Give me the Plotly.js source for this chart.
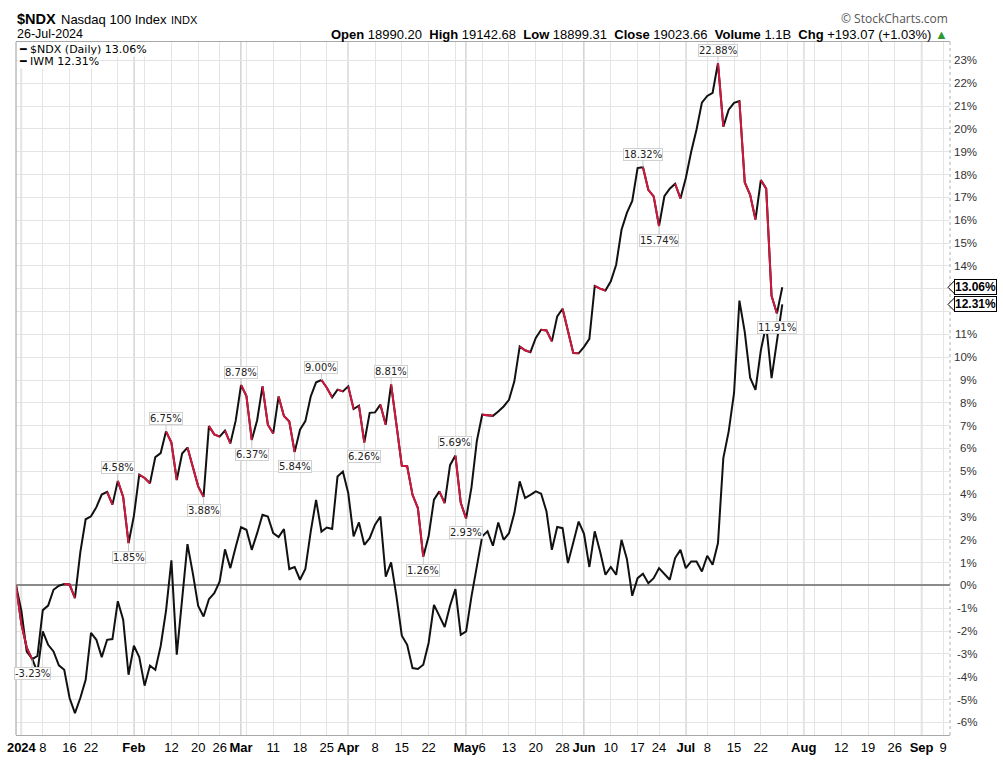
<!DOCTYPE html>
<html><head><meta charset="utf-8">
<script src="https://cdn.plot.ly/plotly-3.0.1.min.js"></script>
<style>html,body{margin:0;padding:0;background:#fff;}#chart{width:1003px;height:762px;}</style>
</head><body><div id="chart"></div>
<script>
// ---- data ----
const holidays = ['2024-01-01','2024-01-15','2024-02-19','2024-03-29','2024-05-27','2024-06-19','2024-07-04','2024-09-02'];
const startDate = '2023-12-29';
const endDate = '2024-09-10';

// $NDX % change since 29-Dec-2023 (daily closes)
const ndx = [0,-1.68,-2.72,-3.23,-3.09,-1.08,-0.88,-0.19,-0.01,0.06,0.04,-0.55,1.45,2.90,3.03,3.43,3.98,4.10,3.54,4.58,3.88,1.85,
 3.05,4.85,4.71,4.48,5.62,5.80,6.75,6.26,4.62,5.78,6.04,5.20,4.34,3.88,6.98,6.62,6.52,6.78,6.22,7.22,
 8.78,8.30,6.37,7.24,8.72,7.04,6.66,8.28,7.42,7.18,5.84,6.82,7.20,8.28,8.90,9.00,8.66,8.24,8.58,8.50,
 8.72,7.73,7.88,6.26,7.56,7.58,7.92,7.04,8.81,7.05,5.24,5.22,3.97,3.39,1.26,2.15,3.76,4.12,3.61,5.27,5.69,3.62,
 2.93,4.30,6.33,7.48,7.47,7.43,7.62,7.84,8.13,8.94,10.47,10.30,10.22,10.84,11.20,11.17,10.69,11.79,12.12,11.13,10.18,10.17,
 10.45,10.80,13.12,13.00,12.92,13.32,14.05,15.58,16.32,16.84,18.28,18.32,17.33,17.04,15.74,17.05,17.38,17.60,16.95,
 17.85,19.00,19.97,21.15,21.44,21.58,22.88,20.10,20.84,21.14,21.22,17.65,17.11,16.03,17.76,17.38,12.69,11.91,13.06];

// IWM % change since 29-Dec-2023
const iwm = [0,-1.10,-2.90,-3.20,-3.80,-2.01,-2.60,-2.89,-3.50,-3.69,-4.93,-5.59,-4.93,-4.13,-2.08,-2.38,-3.14,-2.38,-2.35,-0.69,-1.50,-3.91,
 -2.64,-3.14,-4.39,-3.51,-3.69,-2.65,-1.10,1.10,-3.03,-0.62,1.81,0.53,-0.90,-1.36,-0.60,-0.34,0.17,1.58,0.76,1.68,
 2.55,2.44,1.56,2.29,3.10,3.02,2.29,2.12,2.47,0.72,0.81,0.25,0.72,2.36,3.75,2.36,2.54,2.47,4.77,4.99,
 4.05,2.15,2.76,1.78,2.07,2.66,3.02,0.39,1.01,-0.48,-2.20,-2.60,-3.62,-3.66,-3.47,-2.52,-0.85,-1.33,-1.82,-0.89,-0.16,-2.16,
 -2.01,-0.48,0.83,2.15,2.37,1.74,2.76,2.00,2.29,3.17,4.56,3.83,3.97,4.12,4.02,3.24,1.56,2.56,2.51,0.98,1.88,2.80,
 2.26,0.81,2.37,1.49,0.47,0.81,0.47,2.00,1.16,-0.45,0.32,0.51,0.10,0.32,0.76,0.51,0.25,1.20,1.56,
 0.76,1.05,1.05,0.61,1.30,0.91,1.86,5.58,6.75,8.43,12.48,11.10,9.10,8.57,10.30,11.42,9.08,10.80,12.31];

const tickDates = ['2024-01-02','2024-01-08','2024-01-16','2024-01-22','2024-01-29','2024-02-01','2024-02-05','2024-02-12','2024-02-20','2024-02-26',
 '2024-03-01','2024-03-04','2024-03-11','2024-03-18','2024-03-25','2024-04-01','2024-04-08','2024-04-15','2024-04-22','2024-04-29',
 '2024-05-01','2024-05-06','2024-05-13','2024-05-20','2024-05-28','2024-06-03','2024-06-10','2024-06-17','2024-06-24',
 '2024-07-01','2024-07-08','2024-07-15','2024-07-22','2024-07-29','2024-08-01','2024-08-05','2024-08-12','2024-08-19','2024-08-26',
 '2024-09-03','2024-09-09'];
const tickLabels = ['<b>2024</b>','8','16','22','','<b>Feb</b>','','12','20','26',
 '<b>Mar</b>','','11','18','25','<b>Apr</b>','8','15','22','',
 '<b>May</b>','6','13','20','28','<b>Jun</b>','10','17','24',
 '<b>Jul</b>','8','15','22','','<b>Aug</b>','','12','19','26',
 '<b>Sep</b>','9'];
const monthDates = ['2024-01-02','2024-02-01','2024-03-01','2024-04-01','2024-05-01','2024-06-03','2024-07-01','2024-08-01','2024-09-03'];

// labelled swing highs/lows on $NDX
const swingIdx  = [3,19,21,28,35,42,44,52,57,65,70,76,82,84,117,120,131,142];
const swingSide = ['low','high','low','high','low','high','low','low','high','low','high','low','high','low','high','low','high','low'];

const yTickMin = -6, yTickMax = 23;

// ---- helpers ----
function tradingDays(s, e, hol) {
  const out = [];
  const d = new Date(s + 'T00:00:00Z'), end = new Date(e + 'T00:00:00Z');
  while (d <= end) {
    const wd = d.getUTCDay(), iso = d.toISOString().slice(0, 10);
    if (wd !== 0 && wd !== 6 && hol.indexOf(iso) < 0) out.push(iso);
    d.setUTCDate(d.getUTCDate() + 1);
  }
  return out;
}
const dates = tradingDays(startDate, endDate, holidays);
const n = ndx.length;
const xs = dates.slice(0, n);

// red segments for down days on $NDX
const rx = [], ry = [];
for (let i = 1; i < n;) {
  if (ndx[i] < ndx[i - 1]) {
    let j = i;
    while (j + 1 < n && ndx[j + 1] < ndx[j]) j++;
    for (let k = i - 1; k <= j; k++) { rx.push(dates[k]); ry.push(ndx[k]); }
    rx.push(dates[j]); ry.push(null);
    i = j + 1;
  } else i++;
}

const PL = 16, PR = 950, PT = 42, PB = 735;
const px = x => (x - PL) / (PR - PL);
const py = y => (PB - y) / (PB - PT);

const SANS = 'Liberation Sans, Arial, sans-serif';
const VERD = 'DejaVu Sans, Verdana, sans-serif';
const NARROW = 'Liberation Sans Narrow, Arial Narrow, Liberation Sans, sans-serif';

const ndxLast = ndx[n - 1], iwmLast = iwm[n - 1];

const traces = [
  {x: xs, y: iwm, type: 'scatter', mode: 'lines', line: {color: '#111', width: 2}, hoverinfo: 'skip', showlegend: false},
  {x: xs, y: ndx, type: 'scatter', mode: 'lines', line: {color: '#111', width: 2}, hoverinfo: 'skip', showlegend: false},
  {x: rx, y: ry, type: 'scatter', mode: 'lines', connectgaps: false, line: {color: '#d0173d', width: 2}, hoverinfo: 'skip', showlegend: false}
];

const ann = [];
// header
ann.push({xref:'paper', yref:'paper', x:px(15), y:py(19), xanchor:'left', yanchor:'middle', showarrow:false,
  text:'<b>$NDX</b>', font:{family:SANS, size:14.5, color:'#000'}});
ann.push({xref:'paper', yref:'paper', x:px(59), y:py(20), xanchor:'left', yanchor:'middle', showarrow:false,
  text:'Nasdaq 100 Index', font:{family:SANS, size:13, color:'#000'}});
ann.push({xref:'paper', yref:'paper', x:px(169), y:py(20), xanchor:'left', yanchor:'middle', showarrow:false,
  text:'INDX', font:{family:SANS, size:11, color:'#000'}});
ann.push({xref:'paper', yref:'paper', x:px(15), y:py(34), xanchor:'left', yanchor:'middle', showarrow:false,
  text:'26-Jul-2024', font:{family:SANS, size:12.5, color:'#000'}});
ann.push({xref:'paper', yref:'paper', x:px(950), y:py(34), xanchor:'right', yanchor:'middle', showarrow:false,
  text:'<b>Open</b> 18990.20  <b>High</b> 19142.68  <b>Low</b> 18899.31  <b>Close</b> 19023.66  <b>Volume</b> 1.1B  <b>Chg</b> +193.07 (+1.03%) <span style="color:#2f9a2f">▲</span>',
  font:{family:SANS, size:13, color:'#000'}});
ann.push({xref:'paper', yref:'paper', x:px(950), y:py(19), xanchor:'right', yanchor:'middle', showarrow:false,
  text:'© StockCharts.com', font:{family:'Open Sans, DejaVu Sans, sans-serif', size:12, color:'#555'}});
// legend
ann.push({xref:'paper', yref:'paper', x:px(18), y:py(50), xanchor:'left', yanchor:'middle', showarrow:false,
  text:'<b>━</b> $NDX (Daily) ' + ndxLast.toFixed(2) + '%', font:{family:VERD, size:11, color:'#000'}, bgcolor:'#fff', borderpad:0});
ann.push({xref:'paper', yref:'paper', x:px(18), y:py(62), xanchor:'left', yanchor:'middle', showarrow:false,
  text:'<b>━</b> IWM ' + iwmLast.toFixed(2) + '%', font:{family:VERD, size:11, color:'#000'}, bgcolor:'#fff', borderpad:0});
// swing labels
swingIdx.forEach((k, j) => {
  const hi = swingSide[j] === 'high';
  ann.push({x: dates[k], y: ndx[k], xref:'x', yref:'y', text: ndx[k].toFixed(2) + '%',
    showarrow:true, arrowhead:0, arrowwidth:1, arrowcolor:'#c8c8c8', ax:0, ay: hi ? -13 : 14,
    font:{family:VERD, size:10, color:'#222'}, bgcolor:'#fff', bordercolor:'#d0d0d0', borderwidth:1, borderpad:0});
});
// right y tick labels (those hidden behind the last-value boxes are skipped)
for (let v = yTickMin; v <= yTickMax; v++) {
  if (Math.abs(v - ndxLast) < 0.5 || Math.abs(v - iwmLast) < 0.5) continue;
  ann.push({xref:'paper', x:1, xanchor:'right', xshift:29, yref:'y', y:v, yanchor:'middle', showarrow:false,
    text: v + '%', font:{family:SANS, size:11.5, color:'#333'}});
}
// last-value boxes
[ndxLast, iwmLast].forEach(v => {
  ann.push({xref:'paper', x:1, xanchor:'left', xshift:4, yref:'y', y:v, yanchor:'middle', showarrow:false,
    text:'<b>' + v.toFixed(2) + '%</b>', font:{family:SANS, size:12, color:'#000'},
    bgcolor:'#fff', bordercolor:'#000', borderwidth:1, borderpad:0});
});

const shapes = [];
monthDates.forEach(d => shapes.push({type:'line', xref:'x', yref:'paper', x0:d, x1:d, y0:0, y1:1,
  line:{color:'#c6c6c6', width:1.5}, layer:'between'}));
shapes.push({type:'line', xref:'paper', yref:'paper', x0:0, x1:0, y0:0, y1:1, line:{color:'#9a9a9a', width:1}});
shapes.push({type:'line', xref:'paper', yref:'paper', x0:1, x1:1, y0:0, y1:1, line:{color:'#b0b0b0', width:1, dash:'dot'}});
[ndxLast, iwmLast].forEach(v => shapes.push({type:'path', xref:'paper', xsizemode:'pixel', xanchor:1,
  yref:'y', ysizemode:'pixel', yanchor:v, path:'M -2,0 L 5,7 L 5,-7 Z', fillcolor:'#fff', line:{color:'#000', width:1}, layer:'above'}));

const layout = {
  width: 1003, height: 762,
  margin: {l: PL, r: 1003 - PR, t: PT, b: 762 - PB, pad: 0},
  paper_bgcolor: '#fff', plot_bgcolor: '#fff',
  showlegend: false, hovermode: false,
  xaxis: {type:'category', categoryorder:'array', categoryarray: dates, range:[0, 174.3],
    tickmode:'array', tickvals: tickDates, ticktext: tickLabels, ticks:'', showgrid:true, gridcolor:'#e4e4e4', gridwidth:1,
    showline:true, linecolor:'#a8a8a8', linewidth:1, mirror:true, zeroline:false,
    tickfont:{family:NARROW, size:13, color:'#000'}, tickangle:0, automargin:false},
  yaxis: {range:[-6.55, 23.805], tick0:0, dtick:1, showticklabels:false, ticks:'', showgrid:true, gridcolor:'#e4e4e4', gridwidth:1,
    zeroline:true, zerolinecolor:'#8a8a8a', zerolinewidth:2, showline:false, automargin:false},
  annotations: ann,
  shapes: shapes
};

Plotly.newPlot('chart', traces, layout, {staticPlot:true, displayModeBar:false});
</script>
</body></html>
